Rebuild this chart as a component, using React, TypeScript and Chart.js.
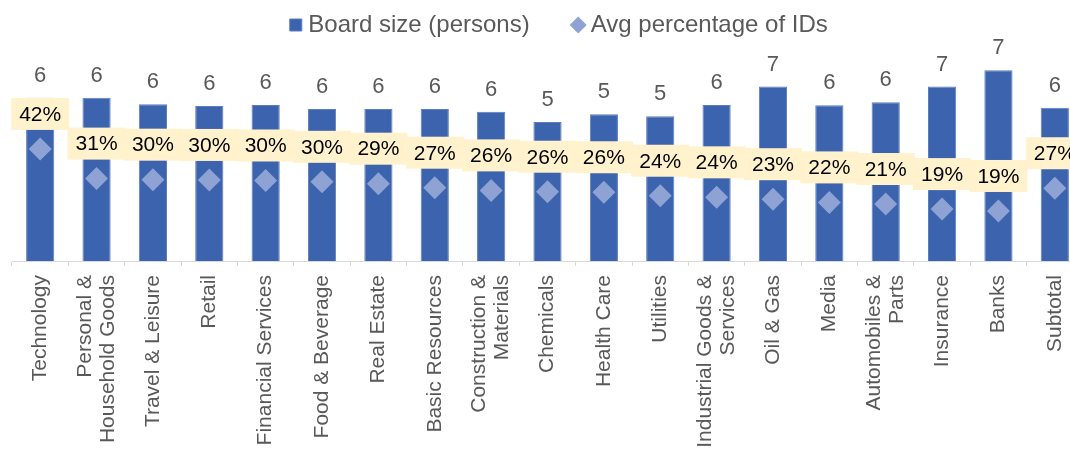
import React, { useEffect, useRef } from 'react';
import { Chart, registerables } from 'chart.js';

Chart.register(...registerables);

const categories: string[][] = [
  ['Technology'],
  ['Personal &', 'Household Goods'],
  ['Travel & Leisure'],
  ['Retail'],
  ['Financial Services'],
  ['Food & Beverage'],
  ['Real Estate'],
  ['Basic Resources'],
  ['Construction &', 'Materials'],
  ['Chemicals'],
  ['Health Care'],
  ['Utilities'],
  ['Industrial Goods &', 'Services'],
  ['Oil & Gas'],
  ['Media'],
  ['Automobiles &', 'Parts'],
  ['Insurance'],
  ['Banks'],
  ['Subtotal'],
];

const boardSize: number[] = [
  6.1, 6.1, 5.86, 5.79, 5.83, 5.68, 5.68, 5.68, 5.58, 5.2, 5.49, 5.41, 5.83, 6.52, 5.82, 5.93, 6.52, 7.13, 5.73,
];

const idShare: number[] = [
  0.419, 0.308, 0.304, 0.303, 0.301, 0.296, 0.289, 0.274, 0.264, 0.259, 0.257, 0.244, 0.238, 0.231, 0.219, 0.213,
  0.194, 0.187, 0.272,
];

const seriesNames = ['Board size (persons)', 'Avg percentage of IDs'];

const FONT = '"Liberation Sans", Arial, sans-serif';

const labelPlugin = {
  id: 'valueLabels',
  afterLayout(chart: any) {
    // Excel centres the legend slightly right of the plot centre
    if (chart.legend) {
      chart.legend.left += 14;
      chart.legend.right += 14;
    }
  },
  beforeDraw(chart: any) {
    // centre multi-line rotated category labels on their tick
    const xs = chart.scales.x;
    if (!xs || !xs.getLabelItems) return;
    const items = xs.getLabelItems();
    items.forEach((it: any) => {
      const n = Array.isArray(it.label) ? it.label.length : 1;
      if (n > 1 && !it._centred) {
        it.options.translation[0] -= ((n - 1) * it.font.lineHeight) / 2;
        it._centred = true;
      }
    });
  },
  afterDatasetsDraw(chart: any) {
    const ctx = chart.ctx;
    ctx.save();
    const barMeta = chart.getDatasetMeta(0);
    ctx.font = `22px ${FONT}`;
    ctx.fillStyle = '#595959';
    ctx.textAlign = 'center';
    ctx.textBaseline = 'alphabetic';
    barMeta.data.forEach((el: any, i: number) => {
      ctx.fillText(String(Math.round(boardSize[i])), el.x, el.y - 16);
    });
    const ptMeta = chart.getDatasetMeta(1);
    ptMeta.data.forEach((el: any, i: number) => {
      const cy = el.y - 35;
      ctx.fillStyle = '#FFF2CC';
      ctx.fillRect(el.x - 29, cy - 16, 58, 32);
      ctx.fillStyle = '#000000';
      ctx.font = `21px ${FONT}`;
      ctx.textBaseline = 'middle';
      ctx.fillText(Math.round(idShare[i] * 100) + '%', el.x, cy + 1);
    });
    ctx.restore();
  },
};

export default function App() {
  const canvasRef = useRef<HTMLCanvasElement | null>(null);

  useEffect(() => {
    const canvas = canvasRef.current;
    if (!canvas) return;
    const chart = new Chart(canvas, {
      type: 'bar',
      data: {
        labels: categories,
        datasets: [
          {
            type: 'bar',
            label: seriesNames[0],
            data: boardSize,
            backgroundColor: '#3C63AE',
            borderColor: '#5C7DBF',
            borderWidth: 1,
            barPercentage: 0.5,
            categoryPercentage: 1,
            yAxisID: 'y',
            order: 1,
            pointStyle: 'rect',
          } as any,
          {
            type: 'line',
            label: seriesNames[1],
            data: idShare,
            showLine: false,
            pointStyle: 'rectRot',
            pointRadius: 11.5,
            pointHoverRadius: 11.5,
            backgroundColor: '#8EA2D4',
            borderColor: '#8EA2D4',
            pointBorderWidth: 0,
            borderWidth: 0,
            yAxisID: 'y1',
            order: 0,
          } as any,
        ],
      },
      options: {
        responsive: false,
        animation: false,
        devicePixelRatio: 1,
        layout: { padding: { left: 12, right: 17, top: -35, bottom: 0 } },
        plugins: {
          tooltip: { enabled: false },
          legend: {
            display: true,
            position: 'top',
            labels: {
              usePointStyle: true,
              boxWidth: 1,
              boxHeight: 12,
              padding: 48,
              color: '#595959',
              font: { size: 24, family: FONT },
              sort: (a: any, b: any) => a.datasetIndex - b.datasetIndex,
            },
          },
        },
        scales: {
          x: {
            offset: true,
            grid: {
              display: true,
              drawOnChartArea: false,
              drawTicks: true,
              tickLength: 5,
              color: '#D9D9D9',
              offset: true,
            },
            border: { display: true, color: '#D9D9D9', width: 1 },
            ticks: {
              color: '#595959',
              font: { size: 21, family: FONT, lineHeight: 1.1 },
              minRotation: 90,
              maxRotation: 90,
              autoSkip: false,
              padding: 9,
            },
            afterFit: (s: any) => {
              s.height = 188;
            },
          } as any,
          y: { display: false, min: 0, max: 8 },
          y1: { display: false, min: 0, max: 0.8, position: 'right' },
        },
      },
      plugins: [labelPlugin],
    });
    return () => chart.destroy();
  }, []);

  return (
    <div
      style={{
        position: 'fixed',
        left: 0,
        top: 0,
        width: 1070,
        height: 449,
        overflow: 'hidden',
        background: '#ffffff',
      }}
    >
      <canvas ref={canvasRef} width={1100} height={449} style={{ display: 'block' }} />
    </div>
  );
}
